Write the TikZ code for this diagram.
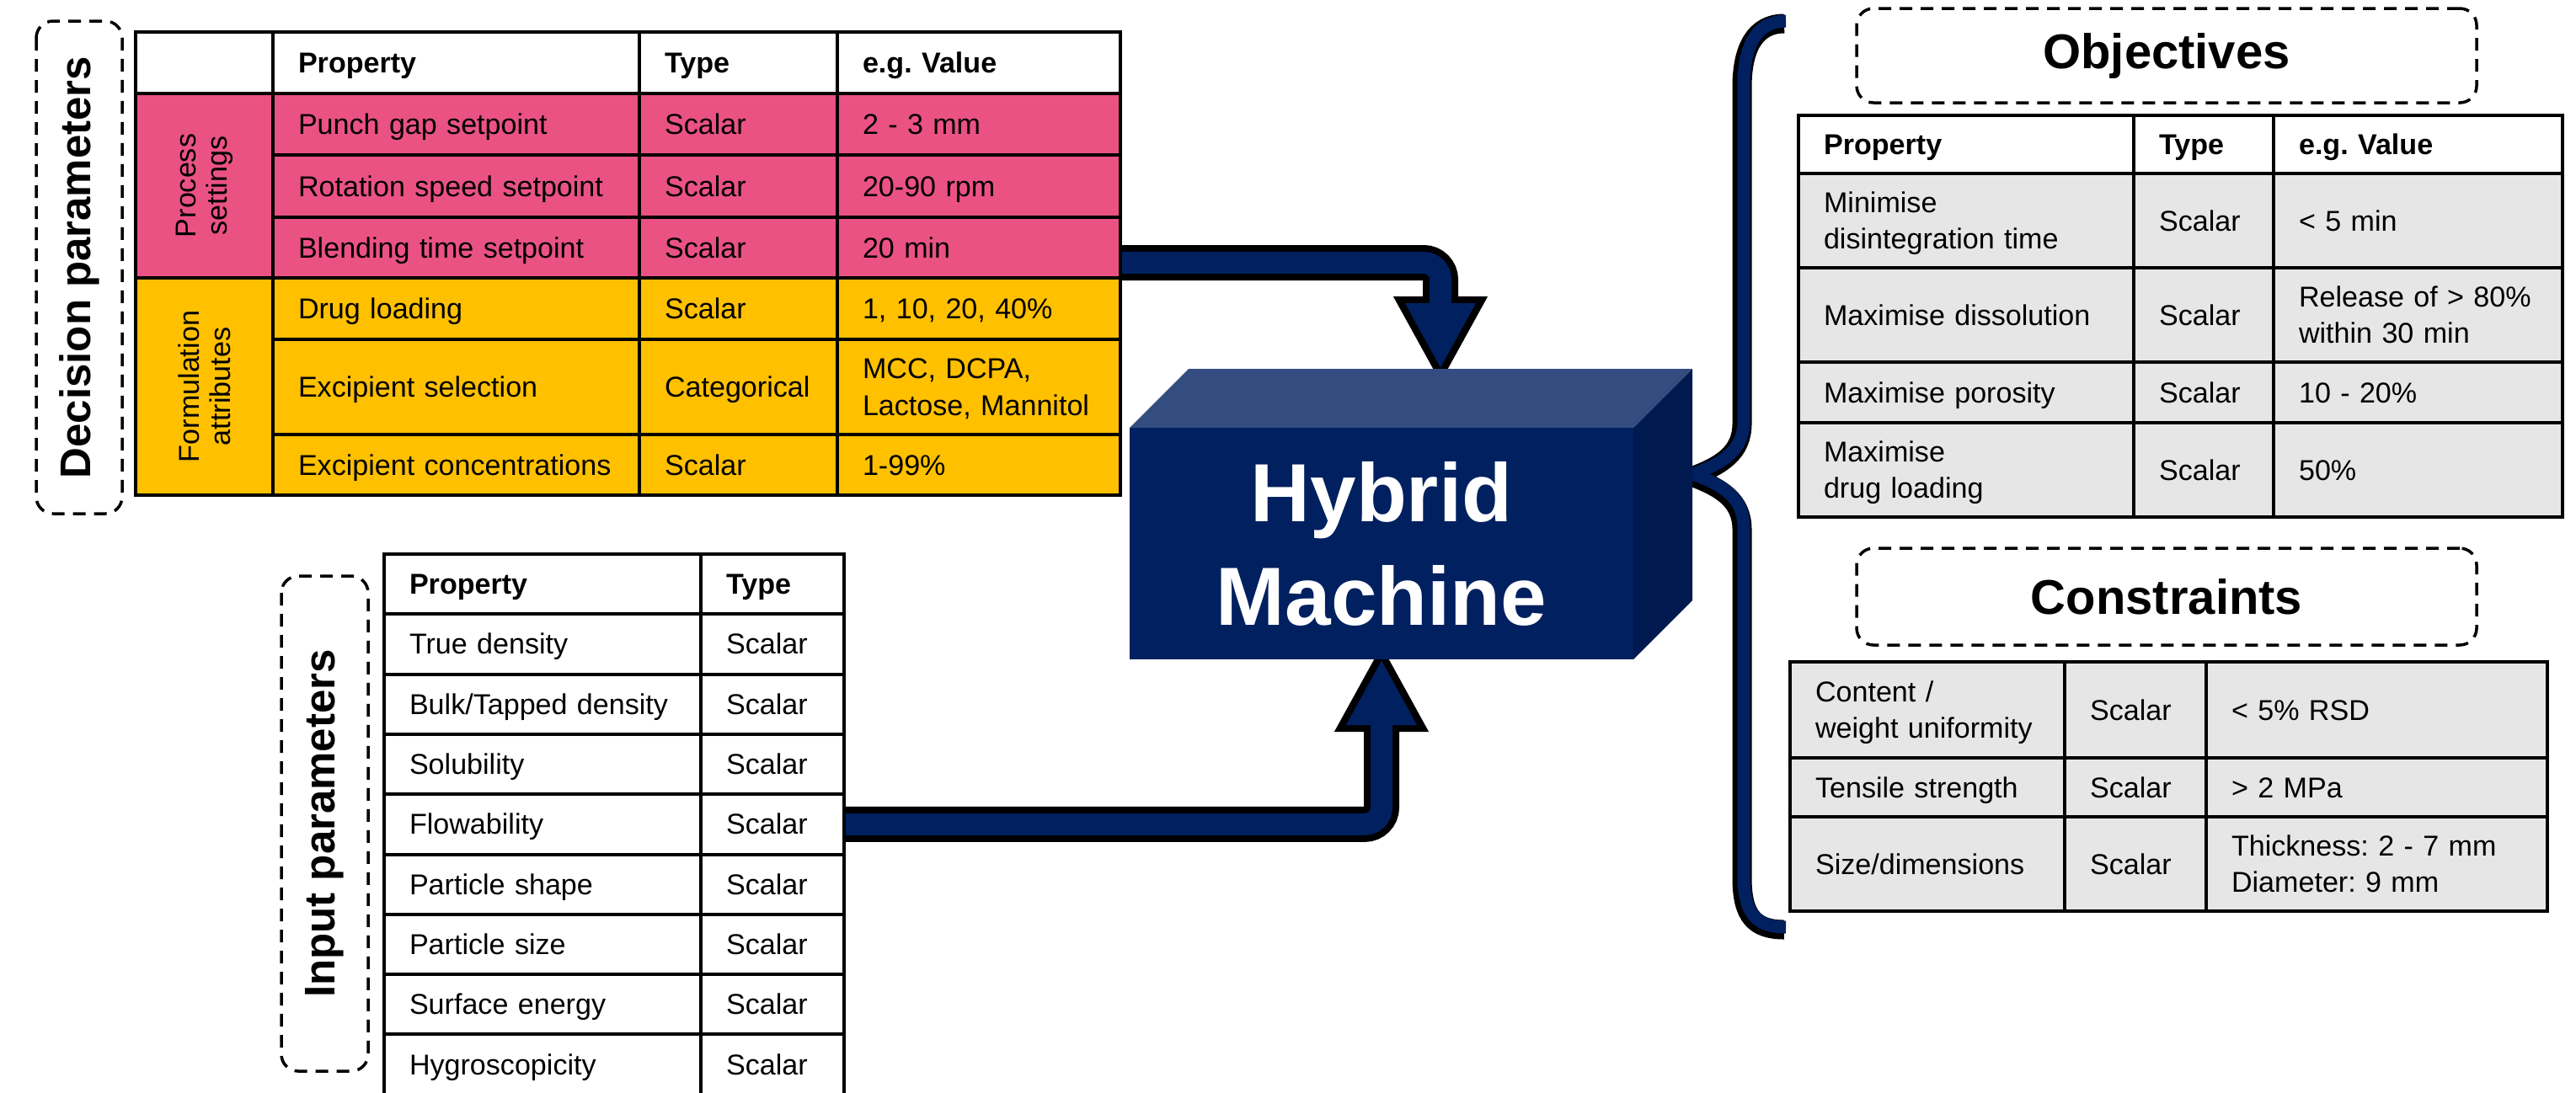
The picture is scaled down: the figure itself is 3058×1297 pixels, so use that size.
\documentclass[tikz,border=0pt]{standalone}
\usepackage{fontspec}
\setmainfont{Liberation Sans}
\usetikzlibrary{arrows.meta, positioning}
\frenchspacing

\definecolor{navy}{HTML}{002060}
\definecolor{navytop}{HTML}{344D80}
\definecolor{navyside}{HTML}{001A4F}
\definecolor{procpink}{HTML}{EA5284}
\definecolor{formgold}{HTML}{FFC000}
\definecolor{cellgray}{HTML}{E6E6E6}

\pgfdeclarelayer{paper}
\pgfdeclarelayer{pipes}
\pgfsetlayers{paper,pipes,main}

\newcommand{\cellstrut}{\rule[-0.8mm]{0pt}{4mm}}

\begin{document}
\begin{tikzpicture}[
  x=0.1mm, y=-0.1mm,
  cell/.style = {draw, line width=0.4mm, anchor=north west, outer sep=0pt, inner xsep=3mm, inner ysep=0pt,
                 align=left, font=\fontsize{9.7}{10.5}\selectfont,
                 execute at begin node=\cellstrut, execute at end node=\cellstrut},
  sidecell/.style = {draw, line width=0.4mm, rotate=90, align=center, inner sep=0pt, outer sep=0pt,
                     font=\fontsize{9.7}{10.5}\selectfont},
  groupbox/.style = {draw, line width=0.35mm, dash pattern=on 1.5mm off 1mm, rounded corners=2mm,
                     font=\bfseries\fontsize{14.5}{17}\selectfont},
  heading/.style = {groupbox, font=\bfseries\fontsize{16.5}{20}\selectfont},
  machine/.style = {fill=navy, text=white, align=center, outer sep=0pt, inner sep=0pt,
                    minimum width=59.8mm, minimum height=27.5mm,
                    font=\bfseries\fontsize{27.9}{35}\selectfont},
  pipe/.style = {navy, line width=2.6mm, rounded corners=2mm, -{Triangle[length=7.8mm, width=7.8mm]}},
  pipeedge/.style = {black, line width=4.2mm, rounded corners=2mm, -{Triangle[length=10.4mm, width=10.4mm]}},
  bracepath/.style = {navy, line width=1.5mm,
                      preaction={draw, black, line width=2.3mm, transform canvas={shift={(-0.2mm,-0.3mm)}}}}
]

  \useasboundingbox (0,0) rectangle (3058,1297);
  \begin{pgfonlayer}{paper}
    \fill[white] (0,0) rectangle (3058,1297);
  \end{pgfonlayer}

  % Decision parameters table
  \node[groupbox, rotate=90, minimum width=58.5mm, minimum height=10.2mm] (decision) at (94,317.5) {Decision parameters};
  \node[cell, minimum width=16.3mm, minimum height=7.3mm] (dp-0-0) at (161,38) {};
  \node[sidecell, fill=procpink, minimum width=21.9mm, minimum height=16.3mm] (dp-proc) at (242.5,220.5) {Process\\settings};
  \node[sidecell, fill=formgold, minimum width=25.8mm, minimum height=16.3mm] (dp-form) at (242.5,459) {Formulation\\attributes};
  \foreach \rw/\ry/\rh/\fc/\prop/\typ/\val in {
      0/38/73/white/\textbf{Property}/\textbf{Type}/\textbf{e.g. Value},
      1/111/73/procpink/Punch gap setpoint/Scalar/2 - 3 mm,
      2/184/74/procpink/Rotation speed setpoint/Scalar/20-90 rpm,
      3/258/72/procpink/Blending time setpoint/Scalar/20 min,
      4/330/73/formgold/Drug loading/Scalar/{1, 10, 20, 40\%},
      5/403/113/formgold/Excipient selection/Categorical/{MCC, DCPA,\\Lactose, Mannitol},
      6/516/72/formgold/Excipient concentrations/Scalar/1-99\%}
  {
    \node[cell, fill=\fc, text width=37.5mm, minimum height=\rh*0.1mm] (dp-\rw-1) at (324,\ry) {\prop};
    \node[cell, fill=\fc, text width=17.5mm, minimum height=\rh*0.1mm] (dp-\rw-2) at (759,\ry) {\typ};
    \node[cell, fill=\fc, text width=27.6mm, minimum height=\rh*0.1mm] (dp-\rw-3) at (994,\ry) {\val};
  }

  % Input parameters table
  \node[groupbox, rotate=90, minimum width=58.8mm, minimum height=10.3mm] (input) at (385.5,978) {Input parameters};
  \foreach \prop/\typ [count=\rw from 0] in {
      \textbf{Property}/\textbf{Type}, True density/Scalar, {Bulk/Tapped density}/Scalar,
      Solubility/Scalar, Flowability/Scalar, Particle shape/Scalar, Particle size/Scalar,
      Surface energy/Scalar, Hygroscopicity/Scalar}
  {
    \node[cell, text width=31.6mm, minimum height=7.13mm] (ip-\rw-1) at (456,{658+71.3*\rw}) {\prop};
    \node[cell, text width=11mm, minimum height=7.13mm] (ip-\rw-2) at (832,{658+71.3*\rw}) {\typ};
  }

  % Objectives table
  \node[heading, minimum width=73.6mm, minimum height=11.2mm] (objectives) at (2572,66) {Objectives};
  \foreach \rw/\ry/\rh/\fc/\prop/\typ/\val in {
      0/137/69/white/\textbf{Property}/\textbf{Type}/\textbf{e.g. Value},
      1/206/112/cellgray/{Minimise\\disintegration time}/Scalar/{< 5 min},
      2/318/112/cellgray/Maximise dissolution/Scalar/{Release of > 80\%\\within 30 min},
      3/430/72/cellgray/Maximise porosity/Scalar/10 - 20\%,
      4/502/112/cellgray/{Maximise\\drug loading}/Scalar/50\%}
  {
    \node[cell, fill=\fc, text width=33.8mm, minimum height=\rh*0.1mm] (ob-\rw-1) at (2135,\ry) {\prop};
    \node[cell, fill=\fc, text width=10.6mm, minimum height=\rh*0.1mm] (ob-\rw-2) at (2533,\ry) {\typ};
    \node[cell, fill=\fc, text width=28.3mm, minimum height=\rh*0.1mm] (ob-\rw-3) at (2699,\ry) {\val};
  }

  % Constraints table
  \node[heading, minimum width=73.6mm, minimum height=11.5mm] (constraints) at (2572,708.5) {Constraints};
  \foreach \rw/\ry/\rh/\prop/\typ/\val in {
      1/786/114/{Content /\\weight uniformity}/Scalar/{< 5\% RSD},
      2/900/70/Tensile strength/Scalar/{> 2 MPa},
      3/970/112/{Size/dimensions}/Scalar/{Thickness: 2 - 7 mm\\Diameter: 9 mm}}
  {
    \node[cell, fill=cellgray, text width=26.6mm, minimum height=\rh*0.1mm] (cs-\rw-1) at (2125,\ry) {\prop};
    \node[cell, fill=cellgray, text width=10.8mm, minimum height=\rh*0.1mm] (cs-\rw-2) at (2451,\ry) {\typ};
    \node[cell, fill=cellgray, text width=34.5mm, minimum height=\rh*0.1mm] (cs-\rw-3) at (2619,\ry) {\val};
  }

  % Hybrid machine block
  \node[machine] (machine) at (1640,645.5) {Hybrid\\Machine};
  \fill[navytop] (machine.north west) -- ++(70,-70) -- ([shift={(70,-70)}]machine.north east)
    -- (machine.north east) -- cycle;
  \fill[navyside] (machine.north east) -- ++(70,-70) -- ([shift={(70,-70)}]machine.south east)
    -- (machine.south east) -- cycle;

  % Pipes into the machine and the brace
  \begin{pgfonlayer}{pipes}
    \draw[pipeedge] ([yshift=-1.8mm]dp-3-3.east) -| ([shift={(70,-52)}]machine.north);
    \draw[pipe] ([yshift=-1.8mm]dp-3-3.east) -| ([shift={(70,-70)}]machine.north);
    \draw[pipeedge] (ip-4-2.east) -| ([yshift=1.8mm]machine.south);
    \draw[pipe] (ip-4-2.east) -| (machine.south);

    \draw[bracepath] (2120,25) .. controls (2085,25) and (2070,55) .. (2070,100) -- (2070,500)
      .. controls (2070,535) and (2045,550) .. (2010,563)
      .. controls (2045,576) and (2070,591) .. (2070,626) -- (2070,1040)
      .. controls (2070,1085) and (2085,1101) .. (2120,1101);
  \end{pgfonlayer}

\end{tikzpicture}
\end{document}
